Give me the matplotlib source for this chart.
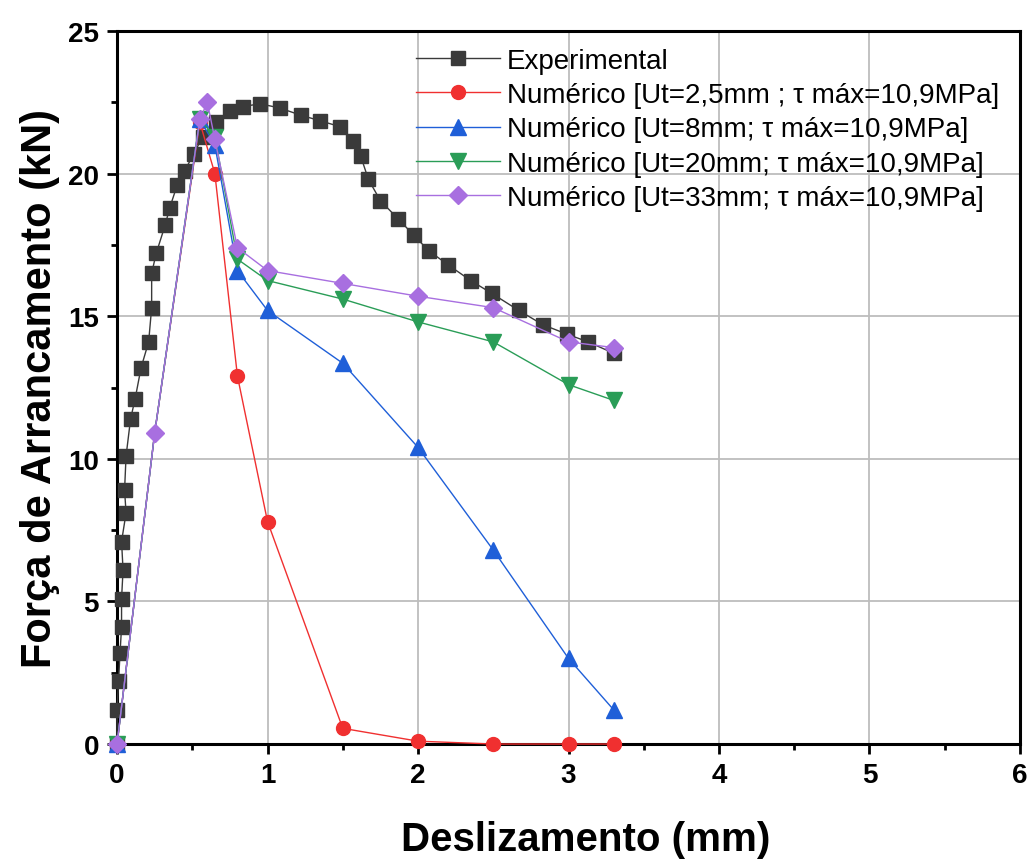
import matplotlib
matplotlib.use("Agg")
import matplotlib.pyplot as plt
from matplotlib.ticker import MultipleLocator

plt.rcParams["font.family"] = ["Liberation Sans", "DejaVu Sans"]

# Experimental curve
exp_x = [0.0, 0.00, 0.01, 0.02, 0.03, 0.03, 0.04, 0.03, 0.06, 0.05, 0.06, 0.09, 0.12,
         0.16, 0.21, 0.23, 0.23, 0.26, 0.32, 0.35, 0.40, 0.45, 0.51, 0.57, 0.66, 0.75,
         0.84, 0.95, 1.08, 1.22, 1.35, 1.48, 1.57, 1.62, 1.67, 1.75, 1.87, 1.97, 2.07,
         2.20, 2.35, 2.49, 2.67, 2.83, 2.99, 3.13, 3.30]
exp_y = [0.0, 1.2, 2.2, 3.2, 4.1, 5.1, 6.1, 7.1, 8.1, 8.9, 10.1, 11.4, 12.1,
         13.2, 14.1, 15.3, 16.5, 17.2, 18.2, 18.8, 19.6, 20.1, 20.7, 21.3, 21.8, 22.2,
         22.35, 22.45, 22.3, 22.05, 21.85, 21.65, 21.15, 20.6, 19.8, 19.05, 18.4, 17.85, 17.3,
         16.8, 16.25, 15.8, 15.2, 14.7, 14.37, 14.1, 13.7]

# Numerical curves
num_x = [0, 0.25, 0.55, 0.65, 0.8, 1.0, 1.5, 2.0, 2.5, 3.0, 3.3]
ut25_y = [0, 10.9, 21.8, 20.0, 12.9, 7.8, 0.55, 0.1, 0.0, 0.0, 0.0]
ut8_y = [0, 10.9, 21.9, 21.0, 16.6, 15.2, 13.35, 10.4, 6.8, 3.0, 1.2]
ut20_y = [0, 10.9, 21.9, 21.3, 17.0, 16.25, 15.6, 14.8, 14.1, 12.6, 12.05]
ut33_x = [0, 0.25, 0.55, 0.6, 0.65, 0.8, 1.0, 1.5, 2.0, 2.5, 3.0, 3.3]
ut33_y = [0, 10.9, 21.9, 22.5, 21.2, 17.4, 16.6, 16.15, 15.7, 15.3, 14.1, 13.9]

labels = [
    "Experimental",
    "Numérico [Ut=2,5mm ; τ máx=10,9MPa]",
    "Numérico [Ut=8mm; τ máx=10,9MPa]",
    "Numérico [Ut=20mm; τ máx=10,9MPa]",
    "Numérico [Ut=33mm; τ máx=10,9MPa]",
]

fig = plt.figure(figsize=(10.33, 8.62), dpi=100)
ax = fig.add_axes([0.1133, 0.1357, 0.8741, 0.8272])

# markers of the shared elastic point are hidden under the diamonds
skip = [i for i in range(len(num_x)) if i != 1]
ax.plot(exp_x, exp_y, color="#3a3a3a", lw=1, marker="s", ms=9.5, label=labels[0],
        zorder=3, clip_on=False)
ax.plot(num_x, ut25_y, color="#f03030", lw=1, marker="o", ms=10, label=labels[1],
        zorder=4, markevery=skip, clip_on=False)
ax.plot(num_x, ut8_y, color="#1f5fd8", lw=1, marker="^", ms=11, label=labels[2],
        zorder=5, markevery=skip, clip_on=False)
ax.plot(num_x, ut20_y, color="#2a9d57", lw=1, marker="v", ms=11, label=labels[3],
        zorder=6, markevery=skip, clip_on=False)
ax.plot(ut33_x, ut33_y, color="#a86fe0", lw=1, marker="D", ms=9, label=labels[4],
        zorder=7, clip_on=False)

ax.set_xlim(0, 6)
ax.set_ylim(0, 25)
ax.xaxis.set_major_locator(MultipleLocator(1))
ax.xaxis.set_minor_locator(MultipleLocator(0.5))
ax.yaxis.set_major_locator(MultipleLocator(5))
ax.yaxis.set_minor_locator(MultipleLocator(2.5))
ax.grid(True, which="major", color="#bdbdbd", lw=1.3)
ax.set_axisbelow(True)

for s in ax.spines.values():
    s.set_linewidth(2.2)
ax.tick_params(which="major", direction="out", length=7, width=2, labelsize=20, pad=6)
ax.tick_params(which="minor", direction="out", length=4, width=2)
for t in ax.get_xticklabels() + ax.get_yticklabels():
    t.set_fontweight("bold")

ax.set_xlabel("Deslizamento (mm)", fontsize=29, fontweight="bold")
ax.xaxis.set_label_coords(0.519, -0.107)
ax.set_ylabel("Força de Arrancamento (kN)", fontsize=30, fontweight="bold", labelpad=6)

ax.legend(loc="upper right", bbox_to_anchor=(0.995, 1.0), frameon=False, fontsize=20,
          handlelength=3.0, labelspacing=0.3, handletextpad=0.25, borderaxespad=0.2)

fig.savefig("out.png", dpi=100)
